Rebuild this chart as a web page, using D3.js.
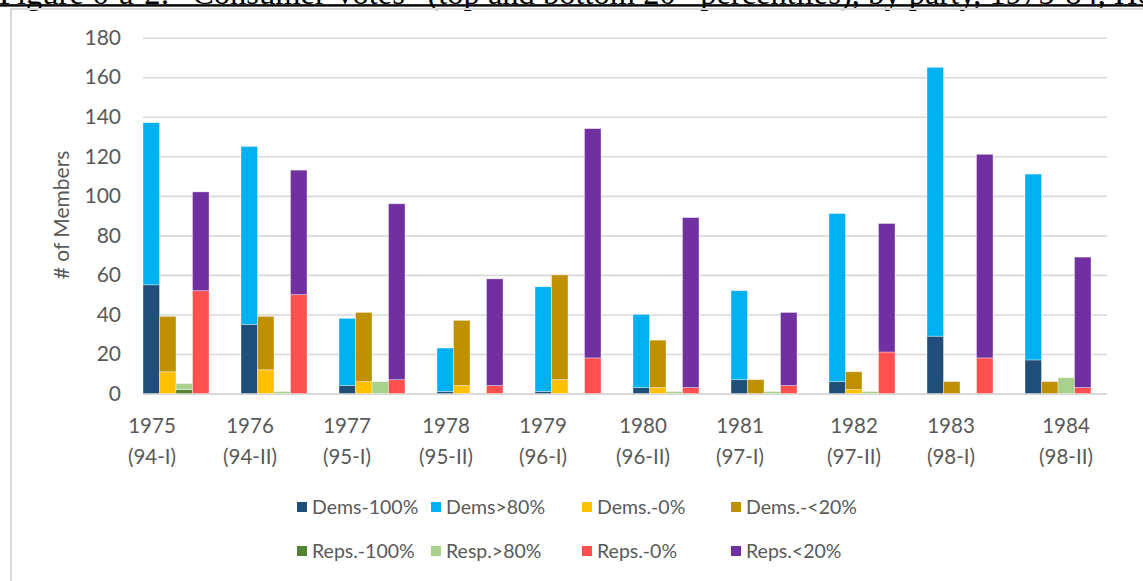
<!DOCTYPE html>
<html>
<head>
<meta charset="utf-8">
<script src="https://cdn.jsdelivr.net/npm/d3@7"></script>
<style>
  body { margin: 0; background: #fff; }
  svg { display: block; }
  text { font-family: Lato, "Open Sans", sans-serif; fill: #595959; }
</style>
</head>
<body>
<svg id="chart" width="1143" height="581"></svg>
<script>
// ---- data -------------------------------------------------------------
const years    = ["1975", "1976", "1977", "1978", "1979", "1980", "1981", "1982", "1983", "1984"];
const sessions = ["(94-I)", "(94-II)", "(95-I)", "(95-II)", "(96-I)", "(96-II)", "(97-I)", "(97-II)", "(98-I)", "(98-II)"];

// segment values (members), each stacked on the one below it
const dems100 = [55, 35, 4, 1, 1, 3, 7, 6, 29, 17];
const dems80  = [82, 90, 34, 22, 53, 37, 45, 85, 136, 94];
const dems0   = [11, 12, 6, 4, 7, 3, 0, 2, 0, 0];
const dems20  = [28, 27, 35, 33, 53, 24, 7, 9, 6, 6];
const reps100 = [2, 0, 0, 0, 0, 0, 0, 0, 0, 0];
const reps80  = [3, 1, 6, 0, 0, 1, 1, 1, 0, 8];
const reps0   = [52, 50, 7, 4, 18, 3, 4, 21, 18, 3];
const reps20  = [50, 63, 89, 54, 116, 86, 37, 65, 103, 66];

const yTicks = [0, 20, 40, 60, 80, 100, 120, 140, 160, 180];
const seriesNames = ["Dems-100%", "Dems>80%", "Dems.-0%", "Dems.-<20%",
                     "Reps.-100%", "Resp.>80%", "Reps.-0%", "Reps.<20%"];
const yTitle = "# of Members";

// ---- styling ----------------------------------------------------------
const seriesColors = ["#1F4E79", "#00B0F0", "#FFC000", "#BF9000",
                      "#548235", "#A9D18E", "#FF5050", "#7030A0"];
const gridColor = "#d9d9d9";
// horizontal nudges of the category labels relative to their group centre
const labelNudge = [-24, -24, -25, -24, -25, -23, -24, -8, -9, 8];
// legend column starts and row centres
const legendCols = [297, 431, 582, 731];
const legendRows = [507, 551];

// ---- table and stacks -------------------------------------------------
const keys = ["dems100", "dems80", "dems0", "dems20", "reps100", "reps80", "reps0", "reps20"];
const cols = [dems100, dems80, dems0, dems20, reps100, reps80, reps0, reps20];
const table = years.map((y, i) => {
  const row = { year: y };
  keys.forEach((k, j) => row[k] = cols[j][i]);
  return row;
});
// four stacked columns per year: each stacks two series
const stackGroups = [["dems100", "dems80"], ["dems0", "dems20"], ["reps100", "reps80"], ["reps0", "reps20"]];

// ---- layout -----------------------------------------------------------
const svg = d3.select("#chart");
const plotLeft = 143, plotRight = 1107, plotTop = 37.7, plotBottom = 393.5;
const groupGap = 32;

svg.append("rect").attr("width", 1143).attr("height", 581).attr("fill", "#fff");

// caption line above the chart frame (mostly cut off by the page edge)
const cap = svg.append("text")
  .attr("x", -1).attr("y", 3.5)
  .style("font-family", "'Liberation Serif', 'Times New Roman', serif")
  .style("font-size", "32.5px").style("fill", "#000");
cap.append("tspan").text("Figure 6-a-2: \u201CConsumer Votes\u201D (top and bottom 20");
cap.append("tspan").attr("baseline-shift", "super").style("font-size", "21px").text("th");
cap.append("tspan").text(" percentiles), by party, 1975-84, House");
svg.append("rect").attr("x", 0).attr("y", 4.2).attr("width", 1143).attr("height", 2.4).attr("fill", "#000");

// chart frame
svg.append("rect")
  .attr("x", 11).attr("y", 9).attr("width", 1200).attr("height", 640)
  .attr("fill", "none").attr("stroke", gridColor).attr("stroke-width", 2);

const x = d3.scaleBand().domain(years).range([plotLeft - groupGap / 2, plotRight]);
const xInner = d3.scaleBand().domain(d3.range(stackGroups.length))
  .range([groupGap / 2, x.bandwidth() - groupGap / 2]);
const y = d3.scaleLinear().domain([0, 180]).range([plotBottom, plotTop]);

// gridlines and tick labels
const yAxis = d3.axisLeft(y).tickValues(yTicks).tickSize(-(plotRight - plotLeft)).tickPadding(22);
const gy = svg.append("g").attr("transform", `translate(${plotLeft},0)`).call(yAxis);
gy.select(".domain").remove();
gy.selectAll(".tick line").attr("stroke", gridColor)
  .attr("stroke-width", d => d === 0 ? 2.2 : 1.6);
gy.selectAll(".tick text").style("font-size", "21px").style("fill", "#595959")
  .attr("font-family", null);

// bars
stackGroups.forEach((pair, gi) => {
  const series = d3.stack().keys(pair)(table);
  series.forEach(s => {
    const color = seriesColors[keys.indexOf(s.key)];
    svg.append("g").selectAll("rect")
      .data(s.filter(d => d[1] - d[0] > 0))
      .join("rect")
      .attr("x", d => x(d.data.year) + xInner(gi))
      .attr("width", xInner.bandwidth())
      .attr("y", d => y(d[1]))
      .attr("height", d => y(d[0]) - y(d[1]))
      .attr("fill", color)
      .attr("stroke", "#fff").attr("stroke-opacity", 0.45).attr("stroke-width", 0.8);
  });
});

// category labels (two lines)
const gx = svg.append("g");
years.forEach((yr, i) => {
  const cx = x(yr) + x.bandwidth() / 2 + labelNudge[i];
  const t = gx.append("text").attr("text-anchor", "middle").style("font-size", "20.5px");
  t.append("tspan").attr("x", cx).attr("y", 433).text(yr);
  t.append("tspan").attr("x", cx).attr("y", 464).text(sessions[i]);
});

// axis title
svg.append("text")
  .attr("transform", "translate(69,215) rotate(-90)")
  .attr("text-anchor", "middle")
  .style("font-size", "21px")
  .text(yTitle);

// legend: two rows of four
const legendFont = 19.5, sw = 10, swGap = 5;
const rows = [[0, 1, 2, 3], [4, 5, 6, 7]];
rows.forEach((r, ri) => {
  r.forEach((si, c) => {
    const g = svg.append("g").attr("transform", `translate(${legendCols[c]},${legendRows[ri]})`);
    g.append("rect").attr("x", 0).attr("y", -sw / 2).attr("width", sw).attr("height", sw)
      .attr("fill", seriesColors[si]);
    g.append("text").attr("x", sw + swGap).attr("y", 0).attr("dy", "0.35em")
      .style("font-size", legendFont + "px").text(seriesNames[si]);
  });
});
</script>
</body>
</html>
